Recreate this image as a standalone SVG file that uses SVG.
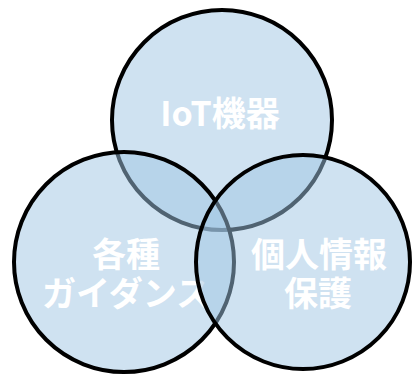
<svg xmlns="http://www.w3.org/2000/svg" width="412" height="376" viewBox="0 0 412 376">
<style>
.c{fill:#9fc5e3;fill-opacity:0.5;stroke:#000;stroke-width:4}
.t{fill:#fff;font-family:"Noto Sans CJK JP","Noto Sans",sans-serif;font-weight:bold;font-size:34px;text-anchor:middle}
</style>
<rect width="412" height="376" fill="#fff"/>
<g id="iot">
<circle class="c" cx="222" cy="120" r="110"/>
<text class="t" x="220" y="126">IoT機器</text>
</g>
<g id="guidance">
<circle class="c" cx="124" cy="262" r="110"/>
<text class="t"><tspan x="126" y="267">各種</tspan><tspan x="126" y="306">ガイダンス</tspan></text>
</g>
<g id="privacy">
<circle class="c" cx="303" cy="262" r="107"/>
<text class="t"><tspan x="319" y="267">個人情報</tspan><tspan x="318" y="306">保護</tspan></text>
</g>
<g id="connectors"/>
</svg>
